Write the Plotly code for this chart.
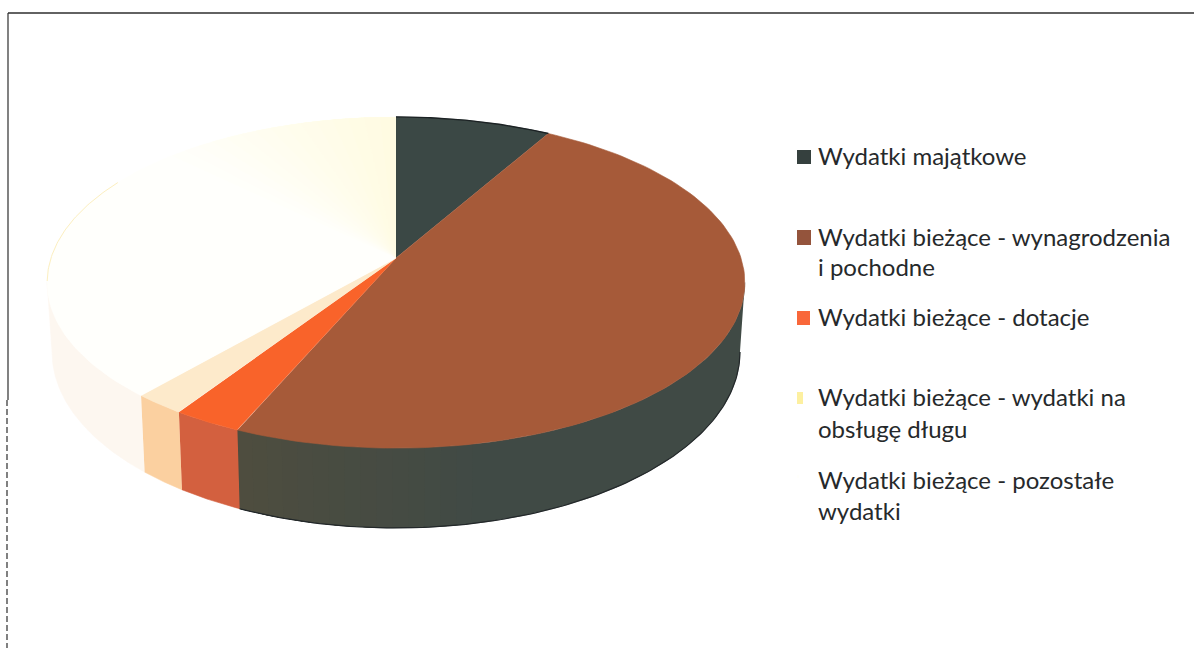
import numpy as np
import plotly.graph_objects as go

# Data: share of each slice, percent
categories = ["Wydatki majątkowe", "Wydatki bieżące - wynagrodzenia i pochodne",
              "Wydatki bieżące - dotacje", "Wydatki bieżące - wydatki na obsługę długu",
              "Wydatki bieżące - pozostałe wydatki"]
values = [8.3, 48.2, 2.8, 2.1, 38.6]
legend_lines = [["Wydatki majątkowe"],
                ["Wydatki bieżące - wynagrodzenia", "i pochodne"],
                ["Wydatki bieżące - dotacje"],
                ["Wydatki bieżące - wydatki na", "obsługę długu"],
                ["Wydatki bieżące - pozostałe", "wydatki"]]

top_colors = ["#3b4845", "#a65a39", "#f9632a", "#fdeacb", "#fffffc"]
side_colors = ["#3f4a46", "#404a45", "#d3603f", "#fbd0a0", "#fdf7f0"]
legend_colors = ["#35403e", "#94543c", "#f9673a", "#fdf0a0", "#fffffb"]
legend_y = [[155], [236, 266], [316], [396, 428], [479, 510]]
marker_boxes = [(797, 150, 811, 164), (797, 230, 811, 245), (797, 311, 810, 325),
                (797, 392, 803, 404), (797, 475, 799, 478)]

# Projection of the tilted disc
CX, CY, RX, RY, K, DEPTH = 396, 258, 345, 162, 0.148, 68


def proj(theta, drop=0.0):
    u, v = np.sin(theta), np.cos(theta)
    w = 1 + K * v
    shrink = 1 - 0.014 * (drop / DEPTH)
    return CX + RX * u / w * shrink, CY - RY * v / w + drop / w


def mix(c1, c2, t):
    a = [int(c1[i:i + 2], 16) for i in (1, 3, 5)]
    b = [int(c2[i:i + 2], 16) for i in (1, 3, 5)]
    return "#" + "".join(f"{round(p + (q - p) * t):02x}" for p, q in zip(a, b))


fig = go.Figure()


def poly(xs, ys, color, name, width=0.6):
    fig.add_trace(go.Scatter(x=xs, y=ys, fill="toself", fillcolor=color, mode="lines",
                             line=dict(color=color, width=width), name=name,
                             hoverinfo="name", showlegend=False))


cum = np.concatenate([[0], np.cumsum(values)]) / sum(values) * 2 * np.pi
vis_lo, vis_hi = np.radians(98.5), np.radians(261.5)

# Side walls
for i, name in enumerate(categories):
    a, b = max(cum[i], vis_lo), min(cum[i + 1], vis_hi)
    if b <= a:
        continue
    th = np.linspace(a, b, 120)
    x1, y1 = proj(th)
    x2, y2 = proj(th[::-1], DEPTH)
    poly(np.r_[x1, x2], np.r_[y1, y2], side_colors[i], name)
    if i == 1:
        # the scanned wall turns slightly brown toward its left end
        edges = np.linspace(b - 0.6, b, 16)
        for j in range(15):
            th = np.linspace(edges[j], b, 40)
            x1, y1 = proj(th)
            x2, y2 = proj(th[::-1], DEPTH)
            poly(np.r_[x1, x2], np.r_[y1, y2], mix(side_colors[i], "#4e4d3f", (j + 1) / 15), name, 0)

# Dark rim under the dark wall
th = np.linspace(vis_lo, cum[2], 120)
x, y = proj(th, DEPTH)
fig.add_trace(go.Scatter(x=x, y=y, mode="lines", line=dict(color="#23282a", width=1.2),
                         hoverinfo="skip", showlegend=False))

# Top face
for i, name in enumerate(categories):
    if i == 4:
        th = np.linspace(cum[i], cum[i + 1], 120)
        x, y = proj(th)
        poly(np.r_[CX, x], np.r_[CY, y], top_colors[i], name)
        edges = np.linspace(cum[i + 1] - 0.8, cum[i + 1], 16)
        for j in range(15):
            th = np.linspace(edges[j], cum[i + 1], 40)
            x, y = proj(th)
            poly(np.r_[CX, x], np.r_[CY, y], mix(top_colors[i], "#fffbe2", (j + 1) / 15), name, 0)
    else:
        th = np.linspace(cum[i], cum[i + 1], 120)
        x, y = proj(th)
        poly(np.r_[CX, x], np.r_[CY, y], top_colors[i], name)

# Rims of top face
th = np.linspace(cum[0], cum[1], 60)
x, y = proj(th)
fig.add_trace(go.Scatter(x=x, y=y, mode="lines", line=dict(color="#1c2224", width=1.4),
                         hoverinfo="skip", showlegend=False))
th = np.linspace(np.radians(262), np.radians(300), 50)
x, y = proj(th)
fig.add_trace(go.Scatter(x=x, y=y, mode="lines", line=dict(color="#fcefc0", width=1),
                         hoverinfo="skip", showlegend=False))

# Legend
annotations = []
for lines, ys in zip(legend_lines, legend_y):
    for line, yy in zip(lines, ys):
        annotations.append(dict(x=816, y=yy, xref="x", yref="y", text=line, showarrow=False,
                                xanchor="left", yanchor="middle", align="left",
                                font=dict(family="Lato", size=24, color="#26292b")))
shapes = [dict(type="rect", x0=b[0], y0=b[1], x1=b[2], y1=b[3], xref="x", yref="y",
               fillcolor=c, line=dict(width=0), layer="above")
          for b, c in zip(marker_boxes, legend_colors)]

# Scanned frame
shapes.append(dict(type="line", x0=8, y0=13, x1=1194, y1=13, xref="x", yref="y",
                   line=dict(color="#2e2e2e", width=1.6)))
shapes.append(dict(type="line", x0=8, y0=13, x1=8, y1=400, xref="x", yref="y",
                   line=dict(color="#2e2e2e", width=1.2)))
shapes.append(dict(type="line", x0=7, y0=400, x1=7, y1=648, xref="x", yref="y",
                   line=dict(color="#2e2e2e", width=1.2, dash="6px,3px")))

fig.update_layout(
    width=1194, height=648, margin=dict(l=0, r=0, t=0, b=0),
    paper_bgcolor="#ffffff", plot_bgcolor="#ffffff", showlegend=False,
    xaxis=dict(range=[0, 1194], visible=False, fixedrange=True),
    yaxis=dict(range=[648, 0], visible=False, fixedrange=True),
    annotations=annotations, shapes=shapes,
)
fig.write_html("out.html", config={"displayModeBar": False},
               post_script="document.body.style.margin='0';document.body.style.overflow='hidden';")
